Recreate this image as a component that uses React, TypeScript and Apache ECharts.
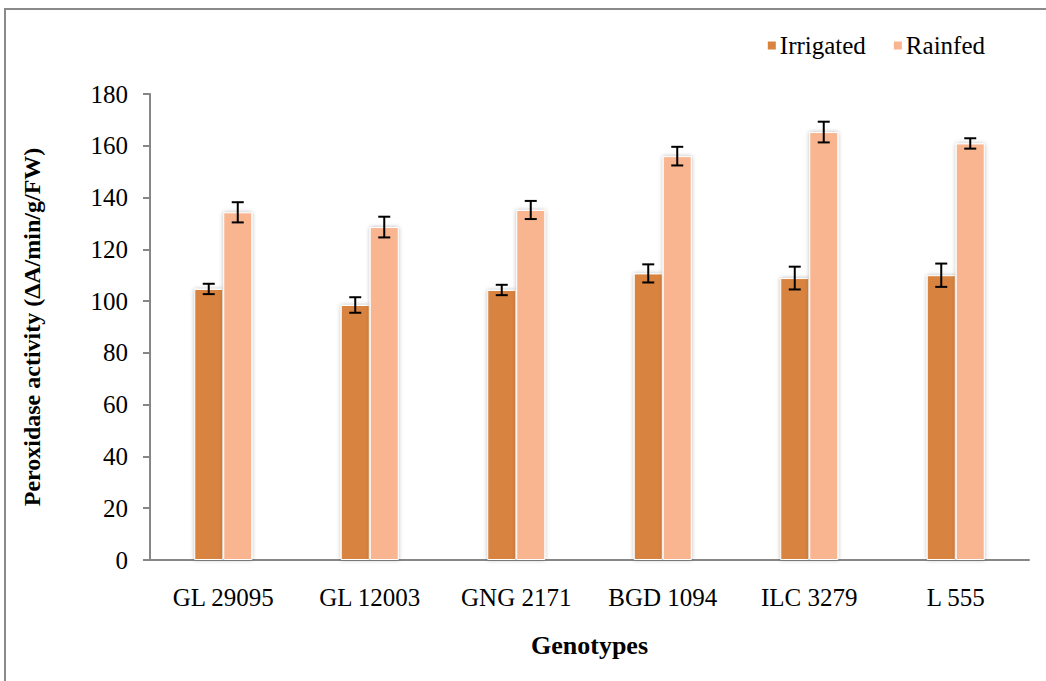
import React, { useEffect, useRef } from "react";
import * as echarts from "echarts";

const genotypes = ["GL 29095", "GL 12003", "GNG 2171", "BGD 1094", "ILC 3279", "L 555"];
const irrigated = [104.7, 98.5, 104.3, 110.7, 108.9, 110.0];
const irrigatedErr = [2.0, 3.0, 2.0, 3.5, 4.4, 4.5];
const rainfed = [134.3, 128.6, 135.2, 156.0, 165.3, 160.9];
const rainfedErr = [3.9, 4.0, 3.5, 3.6, 4.0, 2.0];
const yTicks = { min: 0, max: 180, interval: 20 };

const SERIF = '"Liberation Serif", "Times New Roman", serif';
const BAR_W = 29;

function errorSeries(name: string, values: number[], errs: number[], offset: number) {
  return {
    type: "custom",
    name: name + " error",
    z: 10,
    silent: true,
    data: values.map((v, i) => [i, v, errs[i]]),
    renderItem: (params: any, api: any) => {
      const idx = api.value(0);
      const v = api.value(1);
      const e = api.value(2);
      const top = api.coord([idx, v + e]);
      const bot = api.coord([idx, v - e]);
      const x = top[0] + offset;
      const cap = 6;
      const style = { stroke: "#000", lineWidth: 2 };
      return {
        type: "group",
        children: [
          { type: "line", shape: { x1: x, y1: top[1], x2: x, y2: bot[1] }, style },
          { type: "line", shape: { x1: x - cap, y1: top[1], x2: x + cap, y2: top[1] }, style },
          { type: "line", shape: { x1: x - cap, y1: bot[1], x2: x + cap, y2: bot[1] }, style },
        ],
      };
    },
  };
}

export default function App() {
  const ref = useRef<HTMLDivElement>(null);

  useEffect(() => {
    document.body.style.margin = "0";
    const chart = echarts.init(ref.current!, null, { renderer: "svg" });
    const barStyle = (color: string) => ({
      color,
      borderColor: "#fff",
      borderWidth: 1,
      shadowBlur: 4,
      shadowColor: "rgba(0,0,0,0.28)",
    });
    chart.setOption({
      animation: false,
      backgroundColor: "#fff",
      textStyle: { fontFamily: SERIF, color: "#000" },
      graphic: [
        {
          type: "polyline",
          shape: { points: [[5, 681], [5, 9], [1046, 9]] },
          style: { stroke: "#8a8a8a", lineWidth: 2, fill: "none" },
        },
      ],
      legend: {
        top: 28,
        right: 56,
        itemWidth: 10,
        itemHeight: 10,
        itemGap: 26,
        icon: "rect",
        data: ["Irrigated", "Rainfed"],
        textStyle: { fontFamily: SERIF, fontSize: 25, color: "#000", padding: [0, 0, 0, -2] },
      },
      grid: { left: 150, right: 17, top: 94, bottom: 121 },
      xAxis: {
        type: "category",
        data: genotypes,
        name: "Genotypes",
        nameLocation: "middle",
        nameGap: 72,
        nameTextStyle: { fontFamily: SERIF, fontSize: 26, fontWeight: "bold", color: "#000" },
        axisLine: { lineStyle: { color: "#868686", width: 2 } },
        axisTick: { show: false },
        axisLabel: { fontFamily: SERIF, fontSize: 25, color: "#000", margin: 25 },
      },
      yAxis: {
        type: "value",
        min: yTicks.min,
        max: yTicks.max,
        interval: yTicks.interval,
        name: "Peroxidase activity (ΔA/min/g/FW)",
        nameLocation: "middle",
        nameGap: 106,
        nameTextStyle: { fontFamily: SERIF, fontSize: 24, fontWeight: "bold", color: "#000" },
        axisLine: { show: true, lineStyle: { color: "#868686", width: 2 } },
        axisTick: { show: true, length: 7, lineStyle: { color: "#868686", width: 2 } },
        splitLine: { show: false },
        axisLabel: { fontFamily: SERIF, fontSize: 25, color: "#000", margin: 22 },
      },
      series: [
        {
          name: "Irrigated",
          type: "bar",
          data: irrigated,
          barWidth: BAR_W,
          barGap: "0%",
          itemStyle: barStyle("#d9833f"),
        },
        {
          name: "Rainfed",
          type: "bar",
          data: rainfed,
          barWidth: BAR_W,
          itemStyle: barStyle("#f8b590"),
        },
        errorSeries("Irrigated", irrigated, irrigatedErr, -BAR_W / 2),
        errorSeries("Rainfed", rainfed, rainfedErr, BAR_W / 2),
      ],
    });
    return () => chart.dispose();
  }, []);

  return <div ref={ref} style={{ width: 1046, height: 681 }} />;
}
